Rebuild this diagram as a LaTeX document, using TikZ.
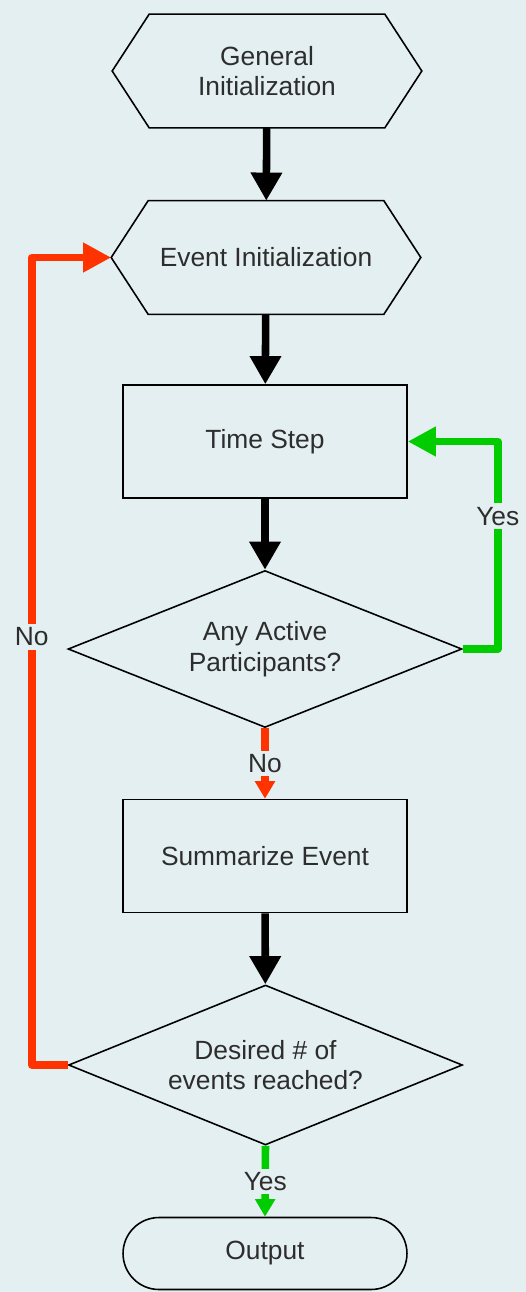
\documentclass[tikz,border=0pt]{standalone}
\usepackage{fontspec}
\setmainfont{Liberation Sans}
\usetikzlibrary{shapes.geometric, arrows.meta, positioning, calc}
\definecolor{bgcol}{RGB}{228,239,241}
\definecolor{noRed}{RGB}{255,51,0}
\definecolor{yesGreen}{RGB}{0,204,0}
\definecolor{txtgray}{RGB}{45,45,45}

\begin{document}
\begin{tikzpicture}[x=0.02cm, y=-0.02cm,
      every node/.style={font=\fontsize{15}{17.5}\selectfont, text=txtgray},
      hexbox/.style={rectangle, minimum width=6.18cm, minimum height=2.26cm, align=center},
      stepbox/.style={rectangle, draw, line width=0.9pt, fill=bgcol, minimum width=5.68cm, minimum height=2.26cm},
      decision/.style={diamond, draw, line width=0.9pt, fill=bgcol, minimum width=7.88cm, minimum height=3.14cm, inner sep=0pt, aspect=2.5, align=center},
      terminal/.style={rectangle, rounded corners=0.72cm, draw, line width=0.9pt, minimum width=5.68cm, minimum height=1.44cm},
      flow/.style={line width=4.3pt, -{Triangle[width=17pt,length=16pt]}},
      loopback/.style={line width=4.3pt, line join=round, -{Triangle[width=16pt,length=16pt]}},
      short/.style={line width=4.3pt, -{Triangle[width=11pt,length=10pt]}},
      lbl/.style={fill=bgcol, inner sep=2pt},
    ]
      \useasboundingbox (0,0) rectangle (526,1292);
      \fill[bgcol] (0,0) rectangle (526,1292);

      % boxes
      \node[hexbox] (gen) at (267, 71) {General\\Initialization};
      \node[hexbox] (ev) at (266, 257.5) {Event Initialization};
      \foreach \n in {gen, ev}
        \draw[line width=0.9pt] (\n.west) -- ([xshift=0.74cm]\n.north west) -- ([xshift=-0.74cm]\n.north east)
          -- (\n.east) -- ([xshift=-0.74cm]\n.south east) -- ([xshift=0.74cm]\n.south west) -- cycle;

      \node[stepbox] (ts) at (265, 441.5) {Time Step};
      \node[decision] (act) at (265, 649) {Any Active\\Participants?};
      \node[stepbox] (sum) at (265, 856) {Summarize Event};
      \node[decision, minimum height=3.2cm] (goal) at (265.5, 1065) {Desired \# of\\events reached?};
      \node[terminal] (out) at (265, 1253.5) {Output};

      % connectors
      \draw[flow] (gen) -- (ev);
      \draw[flow] (ev) -- (ts);
      \draw[flow] (ts) -- (act);
      \draw[flow] (sum) -- (goal);

      \draw[loopback, yesGreen] (act.east) -- ++(35,0) |- node[lbl, pos=0.32] {Yes} (ts.east);
      \draw[loopback, noRed] (goal.west) -- ++(-36,0) |- node[lbl, pos=0.265] {No} (ev.west);
      \draw[short, noRed] (act.south) -- node[lbl] {No} (sum.north);
      \draw[short, yesGreen] (goal.south) -- node[lbl] {Yes} (out.north);
    \end{tikzpicture}
\end{document}
